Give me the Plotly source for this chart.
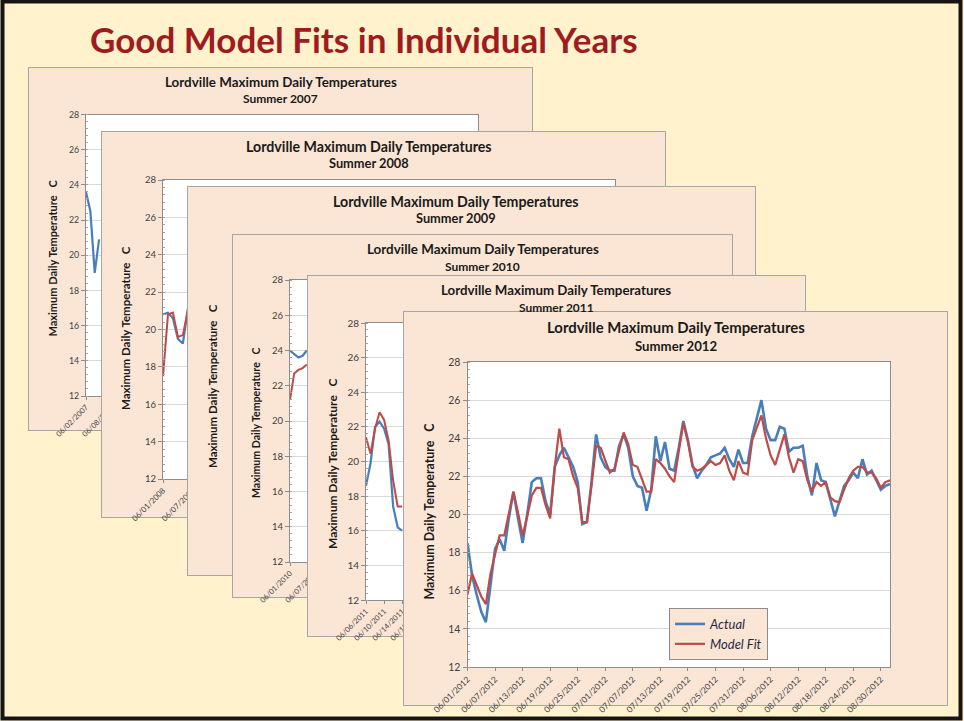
import plotly.graph_objects as go
import pandas as pd

W, H = 964, 721

# ---------------- data ----------------
YEARS = [2007, 2008, 2009, 2010, 2011, 2012]

START_2007, END_2007 = "2007-06-02", "2007-08-31"
START_2008, END_2008 = "2008-06-01", "2008-08-31"
START_2009, END_2009 = "2009-06-01", "2009-08-31"
START_2010, END_2010 = "2010-06-01", "2010-08-31"
START_2011, END_2011 = "2011-06-06", "2011-08-29"
START_2012, END_2012 = "2012-06-01", "2012-09-01"

TICK_DAYS = {2007: 6, 2008: 6, 2009: 6, 2010: 6, 2011: 4, 2012: 6}

actual_2007 = [23.6, 22.5, 19.0, 20.9]
fit_2007 = []
actual_2008 = [20.8, 20.9, 20.6, 19.5, 19.25, 21.1]
fit_2008 = [17.5, 20.8, 20.9, 19.6, 19.7, 21.0]
actual_2009 = []
fit_2009 = []
actual_2010 = [24.0, 23.8, 23.6, 23.7, 24.0]
fit_2010 = [21.2, 22.7, 22.9, 23.0, 23.2]
actual_2011 = [18.6, 19.9, 22.0, 22.3, 21.9, 21.0, 17.4, 16.2, 16.0]
fit_2011 = [21.4, 20.45, 21.9, 22.85, 22.4, 21.2, 18.9, 17.4, 17.4]

actual_2012 = [
    18.5, 16.8, 15.8, 14.9, 14.35, 16.2, 18.2, 18.7, 18.1, 19.8,
    21.2, 19.8, 18.5, 20.0, 21.7, 21.9, 21.9, 20.7, 20.0, 22.5,
    23.1, 23.5, 23.0, 22.5, 21.7, 19.5, 19.6, 21.7, 24.2, 23.0,
    22.5, 22.3, 22.3, 23.6, 24.2, 23.5, 22.0, 21.5, 21.4, 20.2,
    21.3, 24.1, 22.8, 23.8, 22.4, 22.3, 23.5, 24.9, 23.9, 22.6,
    21.9, 22.3, 22.6, 23.0, 23.1, 23.2, 23.5, 22.9, 22.5, 23.4,
    22.7, 22.7, 24.1, 25.1, 26.0, 24.5, 23.9, 23.9, 24.6, 24.5,
    23.3, 23.5, 23.5, 23.6, 22.0, 21.0, 22.7, 21.8, 21.7, 20.8,
    19.9, 20.7, 21.5, 21.8, 22.2, 21.9, 22.9, 22.1, 22.3, 21.8,
    21.3, 21.5, 21.6,
]
fit_2012 = [
    15.8, 16.9, 16.3, 15.7, 15.3, 16.9, 17.9, 18.9, 18.9, 20.0,
    21.2, 20.1, 18.9, 19.9, 21.0, 21.4, 21.4, 20.5, 19.8, 22.5,
    24.5, 23.0, 22.9, 22.0, 21.4, 19.6, 19.6, 21.5, 23.6, 23.5,
    22.9, 22.2, 22.4, 23.4, 24.3, 23.7, 22.6, 22.5, 21.8, 21.2,
    21.2, 22.9, 22.7, 22.4, 22.0, 21.7, 23.3, 24.8, 23.8, 22.5,
    22.3, 22.4, 22.6, 22.8, 22.6, 22.7, 23.1, 22.3, 21.8, 22.8,
    22.2, 22.1, 23.9, 24.5, 25.2, 24.0, 23.1, 22.6, 23.4, 24.2,
    23.0, 22.2, 22.9, 22.8, 21.8, 21.2, 21.7, 21.5, 21.7, 20.9,
    20.7, 20.65, 21.3, 21.9, 22.3, 22.5, 22.5, 22.2, 22.2, 21.9,
    21.4, 21.7, 21.8,
]

Y_TICKS = [12, 14, 16, 18, 20, 22, 24, 26, 28]

SERIES = {
    2007: (START_2007, END_2007, actual_2007, fit_2007),
    2008: (START_2008, END_2008, actual_2008, fit_2008),
    2009: (START_2009, END_2009, actual_2009, fit_2009),
    2010: (START_2010, END_2010, actual_2010, fit_2010),
    2011: (START_2011, END_2011, actual_2011, fit_2011),
    2012: (START_2012, END_2012, actual_2012, fit_2012),
}

# ---------------- layout geometry (page pixels) ----------------
# card box, plot box, title centre x, y-title (x, y)
BOXES = {
    2007: ((28, 67, 533, 431), (86, 114.5, 478, 396), 280.5, (51.5, 258)),
    2008: ((101, 131, 666, 518), (163, 180, 615, 479), 368.5, (125, 328)),
    2009: ((187, 186, 756, 576), (248, 235, 700, 537), 455.5, (212, 386)),
    2010: ((232, 234, 733, 598), (290, 280, 672, 562), 482.5, (256, 423)),
    2011: ((307, 275, 806, 637), (366, 323, 746, 600), 556.0, (332, 464)),
    2012: ((403, 311, 948, 706), (467.5, 362, 890, 667), 675.5, (428.5, 511)),
}
# font sizes: chart title, subtitle, y-title, y ticks, x ticks
FONTS = {
    2007: (13.4, 12.0, 11.0, 8.8, 7.5),
    2008: (14.2, 12.8, 11.5, 9.5, 7.8),
    2009: (14.2, 12.8, 11.5, 9.8, 7.8),
    2010: (13.4, 12.0, 10.6, 9.5, 7.5),
    2011: (13.3, 12.0, 12.0, 10.0, 7.5),
    2012: (14.9, 13.2, 12.4, 10.5, 8.5),
}

CREAM = "#FFF2CC"
PEACH = "#FBE6D6"
CARD_EDGE = "#A6A6A6"
BLUE = "#4A7EBB"
RED = "#BE4B48"
FONT = "Lato"


def px(x):
    return x / W


def py(y):
    return 1 - y / H


def dom_x(a, b):
    return [px(a), px(b)]


def dom_y(a, b):
    return [py(b), py(a)]


fig = go.Figure()
layout_axes = {}
shapes = []
annotations = []

n = 0
for yr in YEARS:
    card, plot, tcx, (ytx, yty) = BOXES[yr]
    f_title, f_sub, f_ytitle, f_ytick, f_xtick = FONTS[yr]
    start, end, actual, fit = SERIES[yr]
    big = yr == 2012

    # --- card subplot (peach panel) ---
    n += 1
    sfx = "" if n == 1 else str(n)
    layout_axes["xaxis" + sfx] = dict(domain=dom_x(card[0], card[2]), range=[0, 1], automargin=False,
                                      visible=False, anchor="y" + sfx, fixedrange=True)
    layout_axes["yaxis" + sfx] = dict(domain=dom_y(card[1], card[3]), range=[0, 1], automargin=False,
                                      visible=False, anchor="x" + sfx, fixedrange=True)
    fig.add_trace(go.Scatter(x=[None], y=[None], xaxis="x" + sfx, yaxis="y" + sfx,
                             showlegend=False, hoverinfo="skip"))
    shapes.append(dict(type="rect", xref="x" + sfx, yref="y" + sfx, x0=0, x1=1, y0=0, y1=1,
                       fillcolor=PEACH, line=dict(color=CARD_EDGE, width=2), layer="below"))

    # --- chart subplot ---
    n += 1
    sfx = str(n)
    layout_axes["xaxis" + sfx] = dict(
        domain=dom_x(plot[0], plot[2]), anchor="y" + sfx, type="date", automargin=False,
        range=[start, end], tick0=start, dtick=TICK_DAYS[yr] * 86400000,
        tickformat="%m/%d/%Y", tickangle=-45,
        tickfont=dict(family=FONT, size=f_xtick, color="#404040"),
        ticks="outside", ticklen=3, tickcolor="#8C8C8C",
        showgrid=False, showline=True, mirror=True, linecolor="#8C8C8C", linewidth=1,
        zeroline=False, fixedrange=True,
    )
    layout_axes["yaxis" + sfx] = dict(
        domain=dom_y(plot[1], plot[3]), anchor="x" + sfx, range=[12, 28], automargin=False,
        tickvals=Y_TICKS, ticktext=[str(v) for v in Y_TICKS],
        tickfont=dict(family=FONT, size=f_ytick, color="#404040"),
        ticks="outside", ticklen=4, tickcolor="#8C8C8C",
        minor=dict(dtick=0.4, tick0=12, ticks="inside", ticklen=2, tickcolor="#A6A6A6", showgrid=False),
        showgrid=True, gridcolor="#D9D9D9", gridwidth=1,
        showline=True, mirror=True, linecolor="#8C8C8C", linewidth=1,
        zeroline=False, fixedrange=True,
    )
    if actual:
        fig.add_trace(go.Scatter(
            x=pd.date_range(start, periods=len(actual), freq="D"), y=actual,
            mode="lines", name="Actual", line=dict(color=BLUE, width=2.6 if big else 2.2),
            xaxis="x" + sfx, yaxis="y" + sfx, showlegend=big, hoverinfo="skip"))
    if fit:
        fig.add_trace(go.Scatter(
            x=pd.date_range(start, periods=len(fit), freq="D"), y=fit,
            mode="lines", name="Model Fit", line=dict(color=RED, width=2.2 if big else 2.0),
            xaxis="x" + sfx, yaxis="y" + sfx, showlegend=big, hoverinfo="skip"))

    # titles
    annotations.append(dict(text="<b>Lordville Maximum Daily Temperatures</b>", x=px(tcx),
                            y=py(card[1] + (16 if big else 15)), xref="paper", yref="paper",
                            showarrow=False, xanchor="center", yanchor="middle",
                            font=dict(family=FONT, size=f_title, color="#1A1A1A")))
    annotations.append(dict(text="<b>Summer %d</b>" % yr, x=px(tcx),
                            y=py(card[1] + (35 if big else 32)), xref="paper", yref="paper",
                            showarrow=False, xanchor="center", yanchor="middle",
                            font=dict(family=FONT, size=f_sub, color="#1A1A1A")))
    annotations.append(dict(text="<b>Maximum Daily Temperature   C</b>", x=px(ytx),
                            y=py(yty), xref="paper", yref="paper",
                            showarrow=False, textangle=-90, xanchor="center", yanchor="middle",
                            font=dict(family=FONT, size=f_ytitle, color="#1A1A1A")))

# slide title
annotations.append(dict(text="<b>Good Model Fits in Individual Years</b>", x=px(363.5), y=py(39),
                        xref="paper", yref="paper", showarrow=False, xanchor="center", yanchor="middle",
                        font=dict(family=FONT, size=35, color="#9E1B20")))

# slide frame
shapes.insert(0, dict(type="rect", xref="paper", yref="paper", x0=px(2.5), x1=px(960.5),
                      y0=py(718.5), y1=py(1.5), line=dict(color="#151515", width=4),
                      fillcolor="rgba(0,0,0,0)", layer="below"))

fig.update_layout(
    width=W, height=H, margin=dict(l=0, r=0, t=0, b=0, pad=0, autoexpand=False),
    paper_bgcolor=CREAM, plot_bgcolor="white",
    shapes=shapes, annotations=annotations,
    showlegend=True,
    legend=dict(x=px(669), y=py(608), xanchor="left", yanchor="top",
                bgcolor=PEACH, bordercolor="#8C8C8C", borderwidth=1,
                font=dict(family=FONT, size=13, color="#1F2A44", style="italic"),
                itemwidth=30, tracegroupgap=0),
    **layout_axes,
)

# remove the browser's default 8px page margin so the figure sits at the window origin
fig.write_html("out.html", config={"displayModeBar": False},
               post_script="document.body.style.margin='0';")
